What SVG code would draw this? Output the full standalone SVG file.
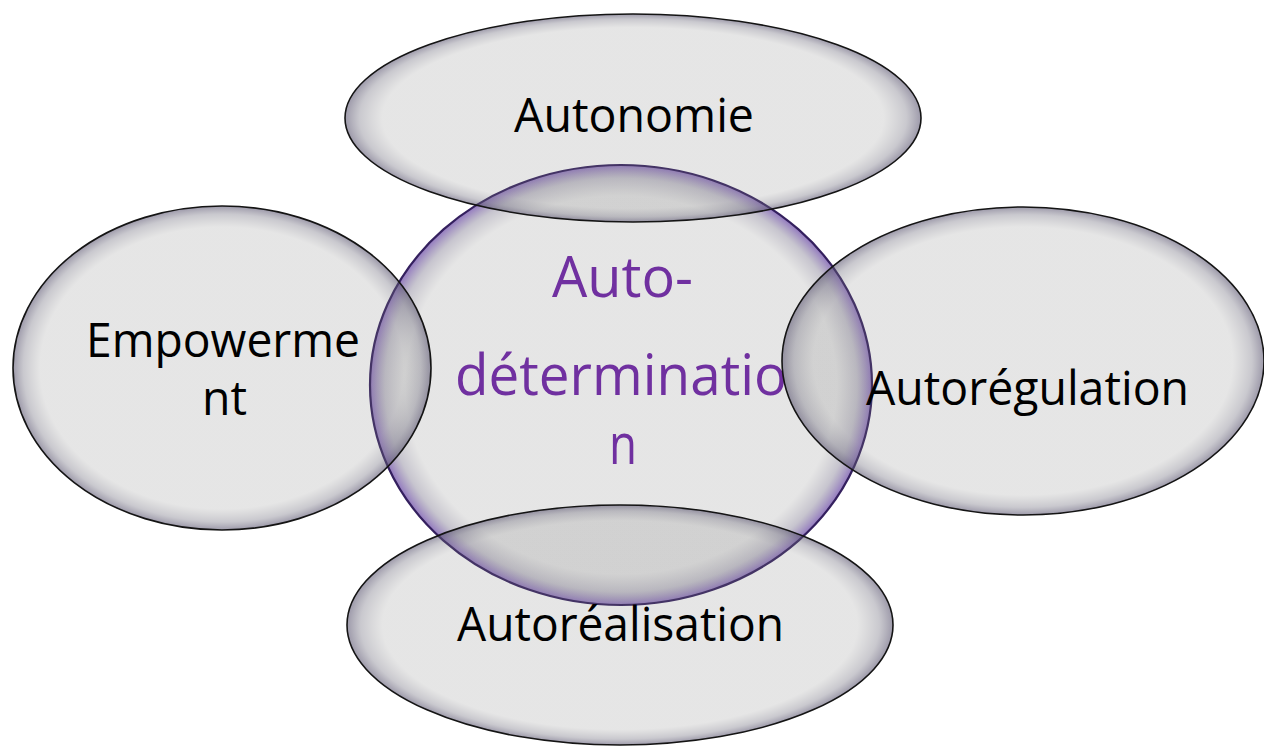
<svg xmlns="http://www.w3.org/2000/svg" width="1264" height="746" viewBox="0 0 1264 746">
  <defs>
    <radialGradient id="gGray" cx="50%" cy="50%" r="50%">
      <stop offset="0" stop-color="#808080" stop-opacity="0.2"/>
      <stop offset="0.87" stop-color="#808080" stop-opacity="0.2"/>
      <stop offset="0.95" stop-color="#6a6878" stop-opacity="0.36"/>
      <stop offset="1" stop-color="#554f6c" stop-opacity="0.58"/>
    </radialGradient>
    <radialGradient id="gPurple" cx="50%" cy="50%" r="50%">
      <stop offset="0" stop-color="#808080" stop-opacity="0.2"/>
      <stop offset="0.86" stop-color="#808080" stop-opacity="0.2"/>
      <stop offset="0.94" stop-color="#6c6680" stop-opacity="0.38"/>
      <stop offset="1" stop-color="#5a32a0" stop-opacity="0.66"/>
    </radialGradient>
  </defs>
  <style>
    .sat { fill: url(#gGray); stroke: #141414; stroke-width: 1.6; }
    .core { fill: url(#gPurple); stroke: #34205e; stroke-width: 2.2; }
    .lbl { font-family: "Open Sans", "Noto Sans", "Liberation Sans", sans-serif; font-size: 47px; fill: #000000; }
    .clbl { font-family: "Open Sans", "Noto Sans", "Liberation Sans", sans-serif; font-size: 56px; fill: #7030a0; }
  </style>
  <rect x="0" y="0" width="1264" height="746" fill="#ffffff"/>
  <g id="connectors"></g>
  <g id="node-autodetermination">
    <ellipse class="core" cx="621" cy="385" rx="251" ry="220"/>
    <text class="clbl" x="552" y="297" textLength="141" lengthAdjust="spacingAndGlyphs">Auto-</text>
    <text class="clbl" x="455" y="395" textLength="332" lengthAdjust="spacingAndGlyphs">déterminatio</text>
    <text class="clbl" x="609" y="464" textLength="28" lengthAdjust="spacingAndGlyphs">n</text>
  </g>
  <g id="node-autonomie">
    <ellipse class="sat" cx="633" cy="118" rx="288" ry="104"/>
    <text class="lbl" x="514" y="132" textLength="240" lengthAdjust="spacingAndGlyphs">Autonomie</text>
  </g>
  <g id="node-empowerment">
    <ellipse class="sat" cx="222" cy="368" rx="209" ry="162"/>
    <text class="lbl" x="86" y="357" textLength="274" lengthAdjust="spacingAndGlyphs">Empowerme</text>
    <text class="lbl" x="202" y="415" textLength="45" lengthAdjust="spacingAndGlyphs">nt</text>
  </g>
  <g id="node-autoregulation">
    <ellipse class="sat" cx="1023" cy="361" rx="241" ry="154"/>
    <text class="lbl" x="866" y="405" textLength="323" lengthAdjust="spacingAndGlyphs">Autorégulation</text>
  </g>
  <g id="node-autorealisation">
    <ellipse class="sat" cx="620" cy="625" rx="273" ry="120"/>
    <text class="lbl" x="457" y="641" textLength="327" lengthAdjust="spacingAndGlyphs">Autoréalisation</text>
  </g>
</svg>
